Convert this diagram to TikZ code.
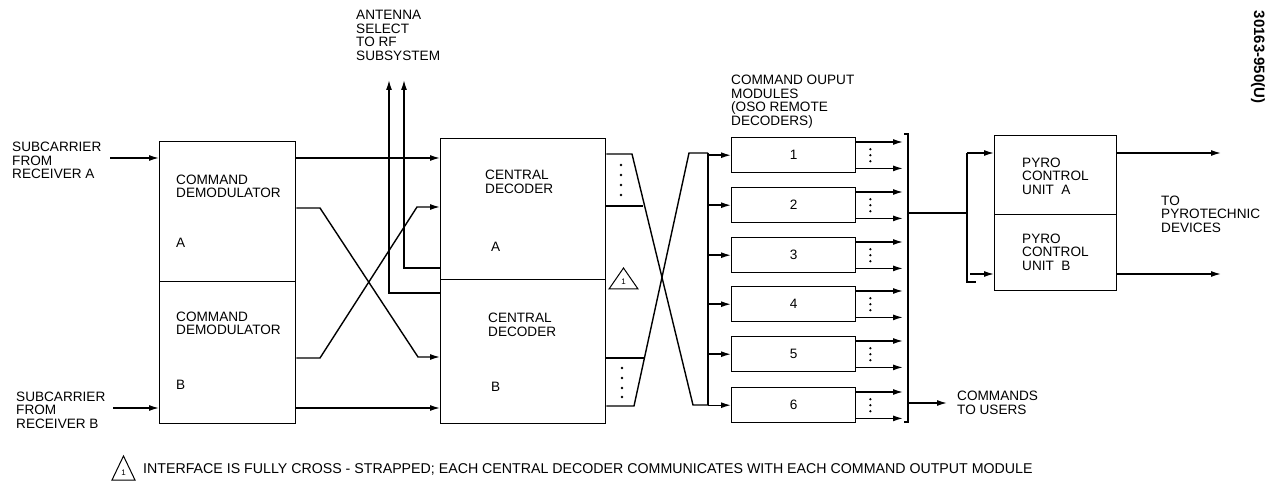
\documentclass[tikz,border=0pt]{standalone}
\usepackage{fontspec}
\setmainfont{Liberation Sans}
\usetikzlibrary{arrows.meta}
\newcommand\dfont{\fontsize{13.6}{13.6}\selectfont}
\begin{document}
\begin{tikzpicture}[x=1pt,y=-1pt,
  box/.style={draw,line width=1.4pt,inner sep=0pt,anchor=north west},
  lbl/.style={align=left,anchor=west,inner sep=0pt,font=\dfont},
  wire/.style={line width=1.4pt},
  arr/.style={line width=1.4pt,-{Latex[length=10pt,width=6pt]}},
  dot/.style={circle,fill,inner sep=0pt,minimum size=2.8pt}]
\useasboundingbox[fill=white] (0,0) rectangle (1272,486);
% ---------- blocks ----------
\node[box,minimum width=136pt,minimum height=140pt] (demA) at (159,141) {};
\node[box,minimum width=136pt,minimum height=142pt] (demB) at (159,281) {};
\node[box,minimum width=165pt,minimum height=141pt] (decA) at (440,138) {};
\node[box,minimum width=165pt,minimum height=144pt] (decB) at (440,279) {};
\foreach \i/\t in {1/137,2/187,3/237,4/286,5/336,6/387}{
  \node[box,minimum width=124pt,minimum height=35pt] (m\i) at (731,\t) {};
  \node[font=\dfont,inner sep=0pt] (mn\i) at (m\i.center) {\i};
}
\node[box,minimum width=122pt,minimum height=79pt] (pyA) at (994,135) {};
\node[box,minimum width=122pt,minimum height=76pt] (pyB) at (994,214) {};
% ---------- labels ----------
\node[lbl] (subA) at (12,160.5) {SUBCARRIER\\FROM\\RECEIVER A};
\node[lbl] (subB) at (16,410) {SUBCARRIER\\FROM\\RECEIVER B};
\node[lbl] (ant) at (356,35.5) {ANTENNA\\SELECT\\TO RF\\SUBSYSTEM};
\node[lbl] (tdA) at (176,186.5) {COMMAND\\DEMODULATOR};
\node[lbl] (tdAl) at (176,243) {A};
\node[lbl] (tdB) at (176,323.5) {COMMAND\\DEMODULATOR};
\node[lbl] (tdBl) at (176,385) {B};
\node[lbl] (tcA) at (485,182) {CENTRAL\\DECODER};
\node[lbl] (tcAl) at (491,247) {A};
\node[lbl] (tcB) at (488,325) {CENTRAL\\DECODER};
\node[lbl] (tcBl) at (491,387) {B};
\node[lbl] (tmod) at (731,101.5) {COMMAND OUPUT\\MODULES\\(OSO REMOTE\\DECODERS)};
\node[lbl] (tpA) at (1022,176) {PYRO\\CONTROL\\UNIT\ \ A};
\node[lbl] (tpB) at (1022,252) {PYRO\\CONTROL\\UNIT\ \ B};
\node[lbl] (tpyro) at (1161,214) {TO\\PYROTECHNIC\\DEVICES};
\node[lbl] (tusers) at (957,403) {COMMANDS\\TO USERS};
\node[lbl,font=\fontsize{14.2}{14.2}\selectfont] (foot) at (143,469) {INTERFACE IS FULLY CROSS - STRAPPED; EACH CENTRAL DECODER COMMUNICATES WITH EACH COMMAND OUTPUT MODULE};
\node[rotate=-90,inner sep=0pt,font=\fontsize{15}{15}\selectfont\bfseries] (fig) at (1258,57) {30163-950(U)};
% note triangles
\draw[line width=1pt] (112,480) -- (123.5,456) -- (135,480) -- cycle;
\node[inner sep=0pt,font=\fontsize{8}{8}\selectfont] (n1) at (123.5,472.5) {1};
\draw[line width=1pt] (609,289) -- (623.5,268) -- (638,289) -- cycle;
\node[inner sep=0pt,font=\fontsize{8}{8}\selectfont] (n2) at (623.5,282) {1};
% ---------- inputs ----------
\coordinate (iA) at (110,158);
\coordinate (iB) at (113,408);
\draw[arr] (iA) -- (demA.west |- iA);
\draw[arr] (iB) -- (demB.west |- iB);
% demod -> decoder
\draw[arr] (demA.east |- 0,158) -- (decA.west |- 0,158);
\draw[arr] (demB.east |- 0,408) -- (decB.west |- 0,408);
\coordinate (xa1) at (320,208); \coordinate (xa2) at (418,357);
\coordinate (xb1) at (320,358); \coordinate (xb2) at (417,207);
\draw[arr] (demA.east |- xa1) -- (xa1) -- (xa2) -- (decB.west |- xa2);
\draw[arr] (demB.east |- xb1) -- (xb1) -- (xb2) -- (decA.west |- xb2);
% antenna select
\coordinate (an1) at (389,80); \coordinate (an2) at (404,80);
\draw[arr] (decB.west |- 0,293) -| (an1);
\draw[arr] (decB.west |- 0,268) -| (an2);
% decoder outputs / cross strap
\coordinate (dA1) at (632,154); \coordinate (dA2) at (693,405);
\coordinate (dB1) at (634,406); \coordinate (dB2) at (689,153);
\coordinate (bus1) at (708,153); \coordinate (bus6) at (708,405);
\draw[wire] (decA.east |- dA1) -- (dA1) -- (dA2) -- (bus6);
\draw[wire] (decA.east |- 0,206) -- (643,206);
\draw[wire] (decB.east |- dB1) -- (dB1) -- (dB2) -- (bus1);
\draw[wire] (decB.east |- 0,358) -- (644,358);
\foreach \yy in {165,175,185,195} \node[dot] at (621,\yy) {};
\foreach \yy in {368,378,388,397} \node[dot] at (622,\yy) {};
\draw[wire] (bus1) -- (bus6);
\foreach \i in {1,...,6} \draw[arr] (bus1 |- m\i.west) -- (m\i.west);
% module outputs
\coordinate (brT) at (908,134); \coordinate (brB) at (908,422);
\foreach \i in {1,...,6}{
  \draw[arr] ([yshift=-5pt]m\i.north east) -- ([yshift=-5pt]m\i.north east -| 903,0);
  \draw[arr] ([yshift=5pt]m\i.south east) -- ([yshift=5pt]m\i.south east -| 903,0);
  \foreach \dd in {-6,0,6} \node[dot,minimum size=2.5pt] at ([xshift=14pt,yshift=\dd pt]m\i.east) {};
}
\draw[wire] (904,134) -- (brT) -- (brB) -- (904,422);
\coordinate (usr) at (947,403);
\draw[arr] (brT |- usr) -- (usr);
% to pyro
\coordinate (pj) at (967,213);
\draw[wire] (brT |- pj) -- (pj);
\draw[wire] (967,153) -- (967,282) -- (976,282);
\draw[arr] (967,153) -- (pyA.west |- 0,153);
\draw[arr] (970,274) -- (pyB.west |- 0,274);
% pyro outputs
\coordinate (po1) at (1221,153); \coordinate (po2) at (1221,274);
\draw[arr] (pyA.east |- po1) -- (po1);
\draw[arr] (pyB.east |- po2) -- (po2);
\end{tikzpicture}
\end{document}
